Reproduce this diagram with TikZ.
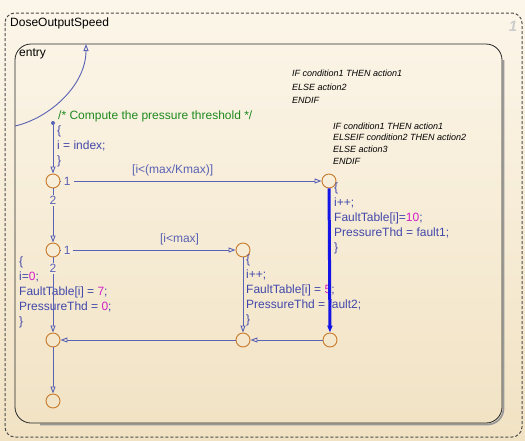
\documentclass[tikz,border=0pt]{standalone}
\usepackage{fontspec}
\setmainfont{Liberation Sans}
\usetikzlibrary{arrows.meta,shapes,calc}
\definecolor{bgtop}{HTML}{FCF6EA}
\definecolor{bgbot}{HTML}{F1E2C3}
\definecolor{bglbl}{HTML}{F8EDD9}
\definecolor{linecol}{HTML}{5A62B4}
\definecolor{codecol}{HTML}{4248AA}
\definecolor{numcol}{HTML}{D21EC8}
\definecolor{cmtcol}{HTML}{1E8A1E}
\definecolor{juncol}{HTML}{C87A2C}
\definecolor{hilite}{HTML}{1414E6}
\tikzstyle{junction} = [draw=juncol, circle, minimum size=14pt, inner sep=0pt, line width=0.9pt]
\tikzstyle{trans} = [draw=linecol, line width=0.9pt, ->]
\tikzstyle{code} = [text=codecol, anchor=north west, inner sep=0pt, align=left, font=\fontsize{12}{15}\selectfont]
\tikzstyle{lbl} = [text=linecol, fill=bglbl, inner sep=1pt, font=\fontsize{12}{14}\selectfont]
\tikzstyle{guard} = [text=linecol, inner sep=0pt, font=\fontsize{12}{14}\selectfont]
\tikzstyle{note} = [anchor=north west, inner sep=0pt, align=left, font=\fontsize{9}{13.5}\selectfont\itshape]
\newcommand{\nm}[1]{\textcolor{numcol}{#1}}

\begin{document}
\begin{tikzpicture}[x=1pt, y=-1pt, >={Triangle[open, length=7pt, width=5pt]}]
    \useasboundingbox (0,0) rectangle (525,440);
    \shade [top color=bgtop, bottom color=bgbot] (0,0) rectangle (525,440);
    % Chart and state
    \draw [dashed, dash pattern=on 3pt off 2pt, black!70, line width=1pt, rounded corners=10pt] (5,13) rectangle (522,437);
    \draw [black!40, line width=1.8pt, rounded corners=16pt] (503.5,60) -- (503.5,424.5) -- (40,424.5);
    \draw [black!85, line width=0.8pt, rounded corners=16pt] (15,44) rectangle (502,423);
    \node [anchor=west, inner sep=0pt, font=\fontsize{12}{14}\selectfont] (chart) at (10,23) {DoseOutputSpeed};
    \node [anchor=west, inner sep=0pt, font=\fontsize{12}{14}\selectfont] (entry) at (19,54) {entry};
    \node [text=black!20, font=\fontsize{15}{15}\selectfont\bfseries\itshape] (num) at (513,26) {1};

    % Notes
    \node [note] (note1) at (292,70) {IF condition1 THEN action1\\ELSE action2\\ENDIF};
    \node [note, font=\fontsize{9}{11.7}\selectfont\itshape] (note2) at (333,122.5) {IF condition1 THEN action1\\ELSEIF condition2 THEN action2\\ELSE action3\\ENDIF};

    % Junctions
    \coordinate (start) at (15,126);
    \coordinate (top) at (86,44);
    \node [circle, fill=linecol, inner sep=0pt, minimum size=4pt] (dot) at (53,123) {};
    \node [junction] (j1) at (53,181) {};
    \node [junction] (j2) at (53,250) {};
    \node [junction] (j3) at (329,181) {};
    \node [junction] (j4) at (243,250) {};
    \node [junction] (j5) at (53,340) {};
    \node [junction] (j6) at (243,340) {};
    \node [junction] (j7) at (330,340) {};
    \node [junction] (j8) at (53,401) {};

    % Actions
    \node [anchor=west, inner sep=0pt, text=cmtcol, font=\fontsize{12}{14}\selectfont] (cmt) at (58,116) {/* Compute the pressure threshold */};
    \node [code] (init) at (57,126) {\{\\i = index;\\\}};
    \node [code] (act3) at (334,183) {\{\\i++;\\FaultTable[i]=\nm{10};\\PressureThd = fault1;\\\}};
    \node [code] (act2) at (246,255) {\{\\i++;\\FaultTable[i] = \nm{5};\\PressureThd = fault2;\\\}};
    \node [code] (act1) at (19,257) {\{\\i=\nm{0};\\FaultTable[i] = \nm{7};\\PressureThd = \nm{0};\\\}};

    % Connections
    \draw [trans] (start) .. controls (50,118) and (86,85) .. (top);
    \draw [trans] (dot) -- (j1);
    \draw [trans] (j1) -- node [lbl, inner xsep=3pt, pos=0.026] {1} node [guard, above=5pt, pos=0.43] {[i<(max/Kmax)]} (j3);
    \draw [trans] (j1) -- node [lbl, pos=0.22] {2} (j2);
    \draw [trans] (j2) -- node [lbl, inner xsep=3pt, pos=0.038] {1} node [guard, above=5pt, pos=0.68] {[i<max]} (j4);
    \draw [trans] (j2) -- node [lbl, pos=0.145] {2} (j5);
    \draw [trans, draw=hilite, line width=3pt] (j3) -- (j7);
    \draw [trans] (j4) -- (j6);
    \draw [trans] (j7) -- (j6);
    \draw [trans] (j6) -- (j5);
    \draw [trans] (j5) -- (j8);
\end{tikzpicture}
\end{document}
